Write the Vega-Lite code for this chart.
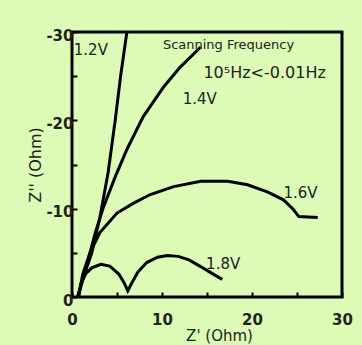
{
  "$schema": "https://vega.github.io/schema/vega-lite/v6.json",
  "width": 270,
  "height": 265,
  "autosize": {"type": "none"},
  "padding": {"left": 72, "top": 32, "right": 20, "bottom": 48},
  "background": "#ddfab7",
  "view": {"stroke": "#000000", "strokeWidth": 3, "fill": "#ddfab7"},
  "config": {
    "font": "DejaVu Sans"
  },
  "datasets": {
    "curves": [
      {"s": "1.2V", "x": 0.6, "y": 0},
      {"s": "1.2V", "x": 1.2, "y": -2},
      {"s": "1.2V", "x": 2.2, "y": -5},
      {"s": "1.2V", "x": 3.1, "y": -9},
      {"s": "1.2V", "x": 4.0, "y": -14},
      {"s": "1.2V", "x": 4.8, "y": -20},
      {"s": "1.2V", "x": 5.4, "y": -25},
      {"s": "1.2V", "x": 6.1, "y": -30},
      {"s": "1.4V", "x": 0.7, "y": 0},
      {"s": "1.4V", "x": 1.3, "y": -2.5},
      {"s": "1.4V", "x": 2.0, "y": -5},
      {"s": "1.4V", "x": 2.6, "y": -7.3},
      {"s": "1.4V", "x": 3.5, "y": -10.2},
      {"s": "1.4V", "x": 4.8, "y": -13.6},
      {"s": "1.4V", "x": 6.1, "y": -16.7},
      {"s": "1.4V", "x": 7.9, "y": -20.4},
      {"s": "1.4V", "x": 10.2, "y": -23.8},
      {"s": "1.4V", "x": 12.0, "y": -26},
      {"s": "1.4V", "x": 14.3, "y": -28.3},
      {"s": "1.6V", "x": 0.7, "y": 0},
      {"s": "1.6V", "x": 1.2, "y": -2.6},
      {"s": "1.6V", "x": 2.0, "y": -5},
      {"s": "1.6V", "x": 3.1, "y": -7.3},
      {"s": "1.6V", "x": 5.0, "y": -9.5},
      {"s": "1.6V", "x": 6.8, "y": -10.6},
      {"s": "1.6V", "x": 8.7, "y": -11.6},
      {"s": "1.6V", "x": 11.3, "y": -12.5},
      {"s": "1.6V", "x": 14.3, "y": -13.1},
      {"s": "1.6V", "x": 17.3, "y": -13.1},
      {"s": "1.6V", "x": 19.5, "y": -12.7},
      {"s": "1.6V", "x": 21.7, "y": -11.9},
      {"s": "1.6V", "x": 23.5, "y": -11},
      {"s": "1.6V", "x": 24.6, "y": -9.9},
      {"s": "1.6V", "x": 25.2, "y": -9.1},
      {"s": "1.6V", "x": 27.3, "y": -9.0},
      {"s": "1.8V", "x": 0.7, "y": 0},
      {"s": "1.8V", "x": 1.0, "y": -1.5},
      {"s": "1.8V", "x": 1.5, "y": -2.6},
      {"s": "1.8V", "x": 2.2, "y": -3.3},
      {"s": "1.8V", "x": 3.2, "y": -3.7},
      {"s": "1.8V", "x": 4.2, "y": -3.5},
      {"s": "1.8V", "x": 5.2, "y": -2.6},
      {"s": "1.8V", "x": 5.8, "y": -1.6},
      {"s": "1.8V", "x": 6.2, "y": -0.7},
      {"s": "1.8V", "x": 6.6, "y": -1.5},
      {"s": "1.8V", "x": 7.3, "y": -2.8},
      {"s": "1.8V", "x": 8.3, "y": -3.9},
      {"s": "1.8V", "x": 9.5, "y": -4.5},
      {"s": "1.8V", "x": 10.6, "y": -4.7},
      {"s": "1.8V", "x": 11.8, "y": -4.6},
      {"s": "1.8V", "x": 13.0, "y": -4.2},
      {"s": "1.8V", "x": 14.2, "y": -3.5},
      {"s": "1.8V", "x": 15.5, "y": -2.7},
      {"s": "1.8V", "x": 16.7, "y": -2.0}
    ],
    "labels": [
      {"t": "1.2V", "x": 0.2, "y": -28.0, "f": "DejaVu Sans", "w": "normal", "sz": 15},
      {"t": "1.4V", "x": 12.3, "y": -22.4, "f": "DejaVu Sans", "w": "normal", "sz": 15},
      {"t": "1.6V", "x": 23.5, "y": -11.8, "f": "DejaVu Sans", "w": "normal", "sz": 15},
      {"t": "1.8V", "x": 14.9, "y": -3.7, "f": "DejaVu Sans", "w": "normal", "sz": 15},
      {"t": "Scanning Frequency", "x": 10.1, "y": -28.5, "f": "DejaVu Sans", "w": "bold", "sz": 13},
      {"t": "10⁵Hz<-0.01Hz", "x": 14.6, "y": -25.4, "f": "DejaVu Serif", "w": "normal", "sz": 16}
    ]
  },
  "layer": [
    {
      "data": {"name": "curves"},
      "mark": {"type": "line", "color": "#000000", "strokeWidth": 3, "clip": true},
      "encoding": {
        "x": {
          "field": "x", "type": "quantitative",
          "scale": {"domain": [0, 30], "nice": false},
          "axis": {
            "title": "Z' (Ohm)", "titleFontSize": 15, "titleFontWeight": "normal", "titleColor": "#222222", "titlePadding": 1, "titleFont": "DejaVu Sans", "titleX": 147,
            "values": [0, 5, 10, 15, 20, 25, 30],
            "labelExpr": "datum.value % 10 == 0 ? '' + datum.value : ''",
            "domain": false, "grid": false, "tickSize": -5, "tickWidth": 2, "tickColor": "#000000",
            "labelFont": "DejaVu Sans", "labelFontWeight": "bold", "labelFontSize": 15, "labelColor": "#222222", "labelPadding": 20, "labelFlush": false
          }
        },
        "y": {
          "field": "y", "type": "quantitative",
          "scale": {"domain": [0, -30], "nice": false},
          "axis": {
            "title": "Z'' (Ohm)", "titleFontSize": 16, "titleFontWeight": "normal", "titleColor": "#222222", "titlePadding": 2, "titleFont": "DejaVu Sans",
            "values": [0, -5, -10, -15, -20, -25, -30],
            "labelExpr": "datum.value % 10 == 0 ? '' + datum.value : ''",
            "domain": false, "grid": false, "tickSize": -5, "tickWidth": 2, "tickColor": "#000000",
            "labelFont": "DejaVu Sans", "labelFontWeight": "bold", "labelFontSize": 15, "labelColor": "#222222", "labelPadding": 4, "labelFlush": false, "labelOffset": 3
          }
        },
        "detail": {"field": "s"}
      }
    },
    {
      "data": {"name": "labels"},
      "mark": {"type": "text", "align": "left", "baseline": "middle", "color": "#222222"},
      "encoding": {
        "x": {"field": "x", "type": "quantitative"},
        "y": {"field": "y", "type": "quantitative"},
        "text": {"field": "t"},
        "font": {"field": "f"},
        "fontWeight": {"field": "w"},
        "size": {"field": "sz", "type": "quantitative", "scale": null}
      }
    }
  ]
}
